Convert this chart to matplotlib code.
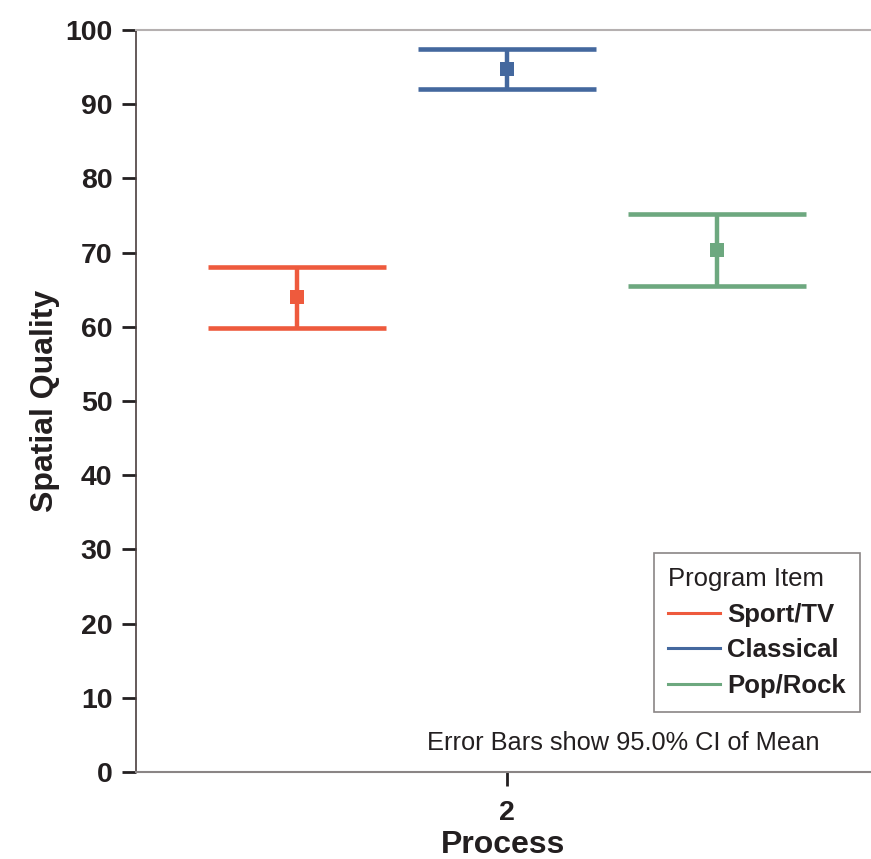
import matplotlib
matplotlib.use("Agg")
import matplotlib.pyplot as plt
from matplotlib.lines import Line2D

plt.rcParams['font.family'] = ['Liberation Sans', 'DejaVu Sans']

# Data
groups = ["Sport/TV", "Classical", "Pop/Rock"]
means = [64.0, 94.7, 70.4]
ci_low = [59.8, 92.1, 65.5]
ci_high = [68.1, 97.4, 75.2]
colors = ["#EE5A3D", "#44689E", "#6DA87F"]
offsets = [-0.2, 0.0, 0.2]
x_center = 2
yticks = [0, 10, 20, 30, 40, 50, 60, 70, 80, 90, 100]
cap_half = 0.085

fig = plt.figure(figsize=(8.71, 8.59), dpi=100)
W, H = 871, 859
ax = fig.add_axes([136 / W, 1 - 772 / H, (871 - 136) / W, (772 - 30) / H])

for m, lo, hi, c, off in zip(means, ci_low, ci_high, colors, offsets):
    x = x_center + off
    ax.vlines([x], lo, hi, color=c, lw=3.2)
    ax.hlines([lo, hi], x - cap_half, x + cap_half, color=c, lw=3.3)
    ax.plot([x], [m], 's', color=c, ms=9.5, mew=0)

ax.set_xlim(x_center - 371 / 1050, x_center + 364 / 1050)
ax.set_ylim(0, 100)
ax.set_yticks(yticks)
ax.set_xticks([x_center])
ax.set_xticklabels([str(x_center)])

for lab in ax.get_yticklabels() + ax.get_xticklabels():
    lab.set_fontweight('bold')
    lab.set_fontsize(20.5)
    lab.set_color('#231f20')

ax.tick_params(axis='y', direction='out', length=10, width=2, color='#231f20', pad=7)
ax.tick_params(axis='x', direction='out', length=10, width=2, color='#231f20', pad=10)

ax.spines['right'].set_visible(False)
ax.spines['left'].set_color('#4a3e3e')
ax.spines['left'].set_linewidth(1.2)
ax.spines['top'].set_color('#b5b0b0')
ax.spines['top'].set_linewidth(1.5)
ax.spines['bottom'].set_color('#8a8585')
ax.spines['bottom'].set_linewidth(1.5)

ax.set_ylabel("Spatial Quality", fontsize=23, fontweight='bold', color='#231f20', labelpad=4)
ax.set_xlabel("Process", fontsize=23, fontweight='bold', color='#231f20', labelpad=3)

handles = [Line2D([0], [0], color=c, lw=2.2) for c in colors]
leg = ax.legend(handles, groups, title="Program Item", loc='lower right',
                bbox_to_anchor=(0.985, 0.081), prop={'weight': 'bold', 'size': 18.5},
                title_fontsize=18.5, fancybox=False, framealpha=1, edgecolor='#8a8585',
                handlelength=2.0, handletextpad=0.3, labelspacing=0.45,
                borderpad=0.55, borderaxespad=0, alignment='left')
leg.get_frame().set_linewidth(1.2)
for t in leg.get_texts():
    t.set_color('#231f20')
leg.get_title().set_color('#231f20')

ax.text((427 - 136) / 735, (772 - 743) / 742, "Error Bars show 95.0% CI of Mean",
        transform=ax.transAxes, fontsize=18.3, color='#231f20', ha='left', va='center')

fig.savefig("out.png", dpi=100)
